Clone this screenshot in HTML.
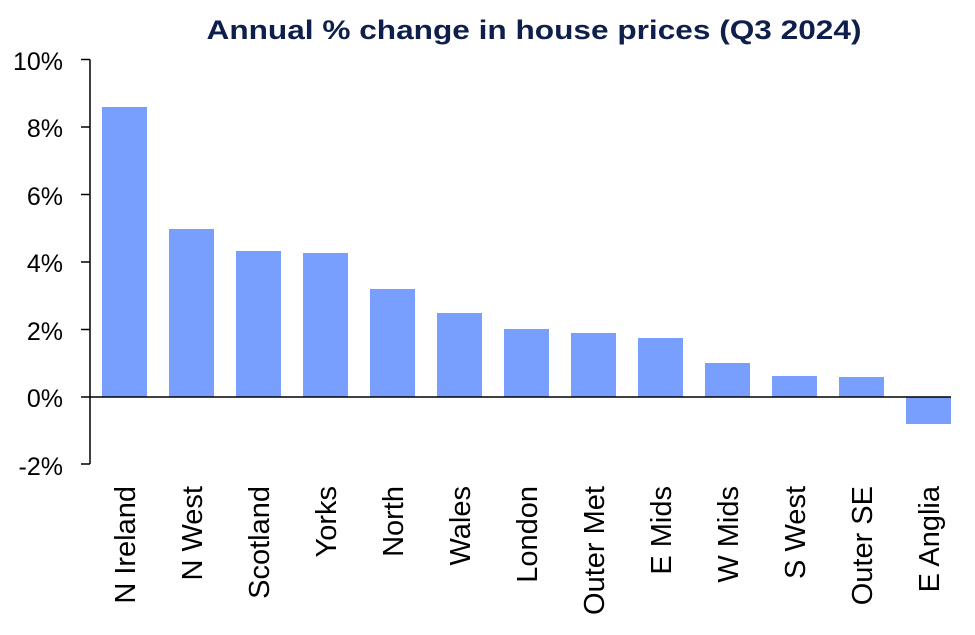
<!DOCTYPE html>
<html><head><meta charset="utf-8"><style>html,body{margin:0;padding:0;background:#fff}svg{display:block}</style></head>
<body>
<svg width="975" height="635" viewBox="0 0 975 635" xmlns="http://www.w3.org/2000/svg" font-family="Liberation Sans, sans-serif">
<text x="534" y="39" text-anchor="middle" font-size="27" font-weight="bold" fill="#0f1f4b" textLength="655" lengthAdjust="spacingAndGlyphs">Annual % change in house prices (Q3 2024)</text>
<g fill="#789ffe">
<rect x="102" y="107" width="45" height="290"/>
<rect x="169" y="229" width="45" height="168"/>
<rect x="236" y="251" width="45" height="146"/>
<rect x="303" y="253" width="45" height="144"/>
<rect x="370" y="289" width="45" height="108"/>
<rect x="437" y="313" width="45" height="84"/>
<rect x="504" y="329" width="45" height="68"/>
<rect x="571" y="333" width="45" height="64"/>
<rect x="638" y="338" width="45" height="59"/>
<rect x="705" y="363" width="45" height="34"/>
<rect x="772" y="376" width="45" height="21"/>
<rect x="839" y="377" width="45" height="20"/>
<rect x="906" y="397" width="45" height="27"/>
</g>
<g stroke="#000" stroke-width="1.5" fill="none">
<line x1="90" y1="59.5" x2="90" y2="464"/>
<line x1="81" y1="59.5" x2="90" y2="59.5"/>
<line x1="81" y1="127" x2="90" y2="127"/>
<line x1="81" y1="194.5" x2="90" y2="194.5"/>
<line x1="81" y1="262" x2="90" y2="262"/>
<line x1="81" y1="329.5" x2="90" y2="329.5"/>
<line x1="81" y1="464" x2="90" y2="464"/>
<line x1="81" y1="397" x2="951" y2="397"/>
</g>
<g font-size="25" fill="#000" text-anchor="end">
<text x="63" y="70">10%</text>
<text x="63" y="137">8%</text>
<text x="63" y="205">6%</text>
<text x="63" y="272">4%</text>
<text x="63" y="340">2%</text>
<text x="63" y="407">0%</text>
<text x="63" y="475">-2%</text>
</g>
<g font-size="29" fill="#000" text-anchor="end">
<text transform="translate(135,486) rotate(-90)">N Ireland</text>
<text transform="translate(202,486) rotate(-90)">N West</text>
<text transform="translate(269,486) rotate(-90)">Scotland</text>
<text transform="translate(336,486) rotate(-90)">Yorks</text>
<text transform="translate(403,486) rotate(-90)">North</text>
<text transform="translate(470,486) rotate(-90)">Wales</text>
<text transform="translate(537,486) rotate(-90)">London</text>
<text transform="translate(604,486) rotate(-90)">Outer Met</text>
<text transform="translate(671,486) rotate(-90)">E Mids</text>
<text transform="translate(738,486) rotate(-90)">W Mids</text>
<text transform="translate(805,486) rotate(-90)">S West</text>
<text transform="translate(872,486) rotate(-90)">Outer SE</text>
<text transform="translate(939,486) rotate(-90)">E Anglia</text>
</g>
</svg>
</body></html>
